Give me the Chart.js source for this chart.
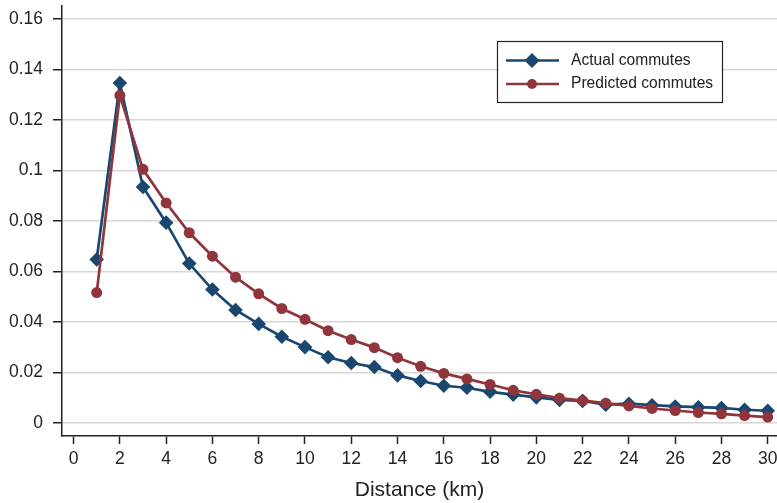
<!DOCTYPE html>
<html>
<head>
<meta charset="utf-8">
<script src="https://cdn.jsdelivr.net/npm/chart.js@4"></script>
<style>
  html, body { margin: 0; padding: 0; background: #fff; }
  #wrap { width: 777px; height: 503px; }
</style>
</head>
<body>
<div id="wrap"><canvas id="chart" width="777" height="503"></canvas></div>
<script>
// distance in km
const distances = [1, 2, 3, 4, 5, 6, 7, 8, 9, 10, 11, 12, 13, 14, 15, 16, 17, 18, 19, 20, 21, 22, 23, 24, 25, 26, 27, 28, 29, 30];

// share of commutes
const actualCommutes = [0.0648, 0.1347, 0.0935, 0.0794, 0.0632, 0.0529, 0.0448, 0.0393, 0.0342, 0.0301,
    0.0261, 0.0238, 0.0222, 0.0189, 0.0167, 0.0148, 0.0140, 0.0124, 0.0113, 0.0102,
    0.0092, 0.0088, 0.0073, 0.0077, 0.0071, 0.0066, 0.0063, 0.0060, 0.0053, 0.0049];
const predictedCommutes = [0.0517, 0.1298, 0.1005, 0.0872, 0.0754, 0.0661, 0.0578, 0.0512, 0.0454, 0.0411,
    0.0366, 0.0331, 0.0299, 0.0259, 0.0225, 0.0197, 0.0175, 0.0153, 0.0130, 0.0114,
    0.0099, 0.0089, 0.0079, 0.0068, 0.0058, 0.0050, 0.0042, 0.0037, 0.0030, 0.0024];

const xTicks = [0, 2, 4, 6, 8, 10, 12, 14, 16, 18, 20, 22, 24, 26, 28, 30];
const yTicks = [0, 0.02, 0.04, 0.06, 0.08, 0.1, 0.12, 0.14, 0.16];

const NAVY = '#1a476f';
const MAROON = '#90353b';
const FONT = '"Liberation Sans", Arial, Helvetica, sans-serif';

// legend box drawn inside the plot, top right
const boxLegend = {
    id: 'boxLegend',
    afterDraw(chart) {
        const ctx = chart.ctx;
        const x = 497.5, y = 41.5, w = 225, h = 61;
        ctx.save();
        ctx.fillStyle = '#fff';
        ctx.fillRect(x, y, w, h);
        ctx.strokeStyle = '#222';
        ctx.lineWidth = 1.2;
        ctx.strokeRect(x, y, w, h);
        const rows = [60.5, 84];
        chart.data.datasets.forEach((ds, i) => {
            const ry = rows[i];
            ctx.strokeStyle = ds.borderColor;
            ctx.lineWidth = 2.7;
            ctx.beginPath();
            ctx.moveTo(506, ry);
            ctx.lineTo(559, ry);
            ctx.stroke();
            ctx.fillStyle = ds.backgroundColor;
            ctx.beginPath();
            if (ds.pointStyle === 'rectRot') {
                const r = 7.5;
                ctx.moveTo(532 - r, ry);
                ctx.lineTo(532, ry - r);
                ctx.lineTo(532 + r, ry);
                ctx.lineTo(532, ry + r);
                ctx.closePath();
            } else {
                ctx.arc(532, ry, 5, 0, Math.PI * 2);
            }
            ctx.fill();
            ctx.fillStyle = '#222';
            ctx.font = '15.6px ' + FONT;
            ctx.textBaseline = 'middle';
            ctx.fillText(ds.label, 571, ry);
        });
        ctx.restore();
    }
};

const fmt = v => String(Number(v.toFixed(2)));

new Chart(document.getElementById('chart'), {
    type: 'line',
    data: {
        datasets: [{
            label: 'Actual commutes',
            data: distances.map((d, i) => ({ x: d, y: actualCommutes[i] })),
            borderColor: NAVY,
            backgroundColor: NAVY,
            borderWidth: 2.7,
            pointStyle: 'rectRot',
            pointRadius: 7.3,
            pointBorderWidth: 0,
            order: 1
        }, {
            label: 'Predicted commutes',
            data: distances.map((d, i) => ({ x: d, y: predictedCommutes[i] })),
            borderColor: MAROON,
            backgroundColor: MAROON,
            borderWidth: 2.7,
            pointStyle: 'circle',
            pointRadius: 5.5,
            pointBorderWidth: 0,
            order: 0
        }]
    },
    options: {
        responsive: false,
        animation: false,
        layout: { autoPadding: false, padding: { top: 6, right: 0, left: 0, bottom: 0 } },
        plugins: {
            legend: { display: false },
            tooltip: { enabled: false }
        },
        scales: {
            x: {
                type: 'linear',
                min: -0.5,
                max: 30.4,
                afterBuildTicks: scale => { scale.ticks = xTicks.map(v => ({ value: v })); },
                afterFit: scale => {
                    scale.height = 67;
                    scale.paddingLeft = 0;
                    scale.paddingRight = 0;
                },
                border: { display: true, color: '#222', width: 1.5 },
                grid: { drawOnChartArea: false, drawTicks: true, tickLength: 8, tickColor: '#222', tickWidth: 1.5 },
                ticks: { color: '#222', font: { family: FONT, size: 17.5 }, padding: 5, maxRotation: 0, autoSkip: false },
                title: {
                    display: true,
                    text: 'Distance (km)',
                    color: '#222',
                    font: { family: FONT, size: 21 },
                    padding: { top: 0, bottom: 0 }
                }
            },
            y: {
                type: 'linear',
                min: -0.0051,
                max: 0.1652,
                afterBuildTicks: scale => { scale.ticks = yTicks.map(v => ({ value: v })); },
                afterFit: scale => {
                    scale.width = 62;
                    scale.paddingTop = 0;
                    scale.paddingBottom = 0;
                },
                border: { display: true, color: '#222', width: 1.5 },
                grid: { color: '#d6d6d6', lineWidth: 1.5, drawTicks: true, tickLength: 9, tickColor: '#222', tickWidth: 1.5 },
                ticks: { color: '#222', font: { family: FONT, size: 17.5 }, padding: 10, callback: v => fmt(v) }
            }
        }
    },
    plugins: [boxLegend]
});
</script>
</body>
</html>
